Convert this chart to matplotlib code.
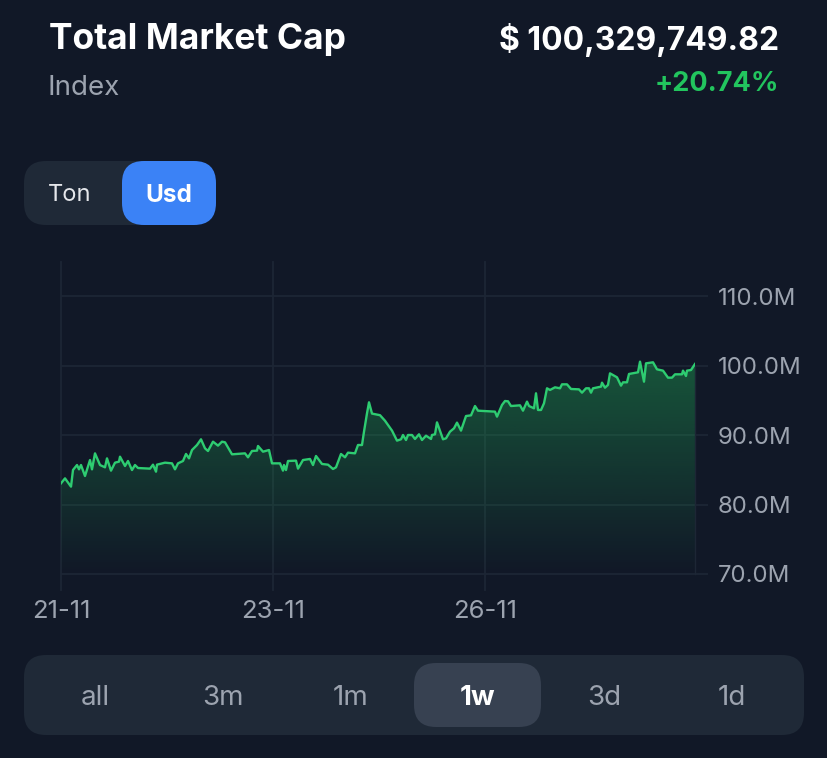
import matplotlib
matplotlib.use("Agg")
import matplotlib.pyplot as plt
import numpy as np
from matplotlib.patches import FancyBboxPatch

plt.rcParams['font.family'] = ['Inter', 'DejaVu Sans']

# --- data ---
# t = position along the time axis, value = market cap in millions
t = [0, 4, 10, 12, 16, 18, 20, 24, 29, 31, 34, 39, 44, 46, 50, 54, 58, 59, 64, 67, 71, 74, 77, 89, 92, 95, 96,
     104, 111, 114, 117, 122, 125, 128, 131, 136, 140, 144, 147, 152, 157, 161, 164, 171, 184, 187, 191, 196,
     197, 202, 208, 211, 219, 222, 223, 225, 227, 235, 237, 242, 249, 252, 255, 261, 267, 272, 275, 280, 284,
     287, 294, 297, 301, 303, 306, 308, 311, 319, 324, 331, 336, 340, 342, 345, 347, 351, 354, 358, 361, 365,
     370, 371, 374, 376, 382, 385, 389, 393, 396, 400, 405, 410, 414, 417, 434, 436, 441, 444, 447, 450, 459,
     462, 466, 468, 473, 475, 477, 480, 483, 486, 489, 494, 499, 501, 506, 510, 518, 521, 525, 528, 530, 532,
     540, 541, 544, 547, 549, 556, 560, 562, 566, 568, 577, 579, 583, 585, 592, 596, 602, 607, 611, 614, 621,
     622, 625, 626, 630, 634]
value = [83.05, 83.76, 82.57, 84.97, 85.68, 85.06, 85.68, 84.10, 86.40, 85.06, 87.36, 85.68, 85.35, 86.64, 84.87,
         86.02, 86.17, 86.88, 85.54, 86.26, 84.96, 85.68, 85.25, 85.16, 85.73, 84.72, 85.73, 86.02, 85.92, 85.06,
         85.92, 86.26, 87.27, 86.64, 87.84, 88.56, 89.38, 88.08, 87.70, 89.04, 88.47, 89.04, 88.95, 87.22, 87.36,
         86.79, 87.70, 87.75, 88.42, 87.60, 87.84, 85.92, 85.92, 84.87, 85.68, 84.96, 86.26, 86.31, 85.16, 86.40,
         86.55, 85.68, 86.98, 85.83, 85.73, 85.11, 85.35, 87.27, 86.79, 87.46, 87.36, 88.56, 88.56, 90.48, 93.12,
         94.70, 93.08, 92.85, 92.05, 90.63, 89.19, 89.38, 90.0, 89.28, 90.0, 90.0, 89.43, 90.1, 89.28, 89.9,
         89.43, 90.0, 90.1, 91.82, 89.38, 89.52, 90.48, 90.96, 91.78, 90.63, 92.73, 92.83, 94.17, 93.5, 93.36,
         92.64, 94.32, 94.89, 94.85, 94.17, 94.27, 93.5, 94.8, 94.17, 93.84, 96.0, 93.6, 93.6, 94.56, 96.72,
         96.48, 96.86, 96.72, 97.29, 97.29, 96.62, 96.57, 96.09, 96.72, 96.72, 96.09, 96.72, 96.96, 97.53, 96.81,
         97.2, 98.87, 98.3, 97.1, 97.58, 97.58, 98.78, 99.02, 100.55, 97.67, 100.31, 100.46, 99.45, 99.26, 98.25,
         98.25, 98.73, 98.73, 99.26, 98.49, 99.26, 99.35, 100.22]

y_ticks = [70, 80, 90, 100, 110]
x_tick_pos = [0, 212, 424]
x_tick_labels = ['21-11', '23-11', '26-11']
ranges = ['all', '3m', '1m', '1w', '3d', '1d']

BG = '#111827'
PANEL = '#1f2937'
ACTIVE = '#374151'
BLUE = '#3b82f6'
GREEN = '#22c55e'
GREY = '#9ca3af'
GRID = '#1d2635'

fig = plt.figure(figsize=(8.28, 7.58), dpi=100, facecolor=BG)

# --- UI layer in pixels ---
ui = fig.add_axes([0, 0, 1, 1])
ui.set_xlim(0, 828)
ui.set_ylim(758, 0)
ui.axis('off')


def pill(x, y, w, h, r, color):
    ui.add_patch(FancyBboxPatch((x + r, y + r), w - 2 * r, h - 2 * r,
                                boxstyle=f'round,pad={r},rounding_size={r}',
                                fc=color, ec='none'))


ui.text(49, 39, 'Total Market Cap', color='white', fontsize=25.5, fontweight='bold', va='center')
ui.text(48, 88, 'Index', color=GREY, fontsize=20, va='center')
ui.text(779, 40, '$ 100,329,749.82', color='white', fontsize=22.9, fontweight='bold', va='center', ha='right')
ui.text(779, 84, '+20.74%', color=GREEN, fontsize=19.5, fontweight='bold', va='center', ha='right')

pill(24, 161, 150, 64, 22, PANEL)
pill(122, 161, 94, 64, 22, BLUE)
ui.text(69.5, 195, 'Ton', color='#e5e7eb', fontsize=17, va='center', ha='center')
ui.text(169, 195, 'Usd', color='white', fontsize=17.5, fontweight='bold', va='center', ha='center')

pill(24, 655, 780, 80, 22, PANEL)
pill(414, 663, 127, 64, 22, ACTIVE)
for i, lab in enumerate(ranges):
    active = lab == '1w'
    ui.text(95.5 + i * 127.3, 698, lab, color='white' if active else GREY, fontsize=20,
            fontweight='bold' if active else 'normal', va='center', ha='center')

# --- chart ---
px_per_m = 6.95
ax = fig.add_axes([61 / 828, 1 - 590 / 758, 634 / 828, 328 / 758])
ax.set_xlim(0, 634)
ax.set_ylim(70 - 16 / px_per_m, 70 + 312 / px_per_m)
ax.patch.set_alpha(0)
for s in ax.spines.values():
    s.set_visible(False)
ax.spines['right'].set_visible(True)
ax.spines['right'].set_color(GRID)
ax.spines['right'].set_linewidth(1)
ax.spines['right'].set_bounds(70, 100)

for y in y_ticks:
    ax.axhline(y, color=GRID, lw=1.3, zorder=1)
for x in x_tick_pos:
    ax.axvline(x, color=GRID, lw=1.3, zorder=1, clip_on=False)

# gradient under the line
rgba = np.zeros((256, 1, 4))
rgba[..., :3] = matplotlib.colors.to_rgb(GREEN)
rgba[..., 3] = np.linspace(0.36, 0.0, 256)[:, None]
fill = ax.fill_between(t, value, 70, color='none', lw=0)
im = ax.imshow(rgba, extent=[0, 634, 70, 101], origin='upper', aspect='auto', zorder=2)
im.set_clip_path(fill.get_paths()[0], transform=ax.transData)
ax.set_xlim(0, 634)
ax.set_ylim(70 - 16 / px_per_m, 70 + 312 / px_per_m)

ax.plot(t, value, color='#2ecc71', lw=1.7, zorder=3, solid_joinstyle='round')

ax.yaxis.tick_right()
ax.set_yticks(y_ticks)
ax.set_yticklabels([f'{y:.1f}M' for y in y_ticks])
ax.tick_params(axis='y', length=9.4, width=1.3, color=GRID, labelcolor=GREY, labelsize=17.3, pad=7)
ax.set_xticks(x_tick_pos)
ax.set_xticklabels(x_tick_labels)
ax.tick_params(axis='x', length=0, labelcolor=GREY, labelsize=18.5, pad=7)

fig.savefig('out.png', dpi=100, facecolor=BG)
